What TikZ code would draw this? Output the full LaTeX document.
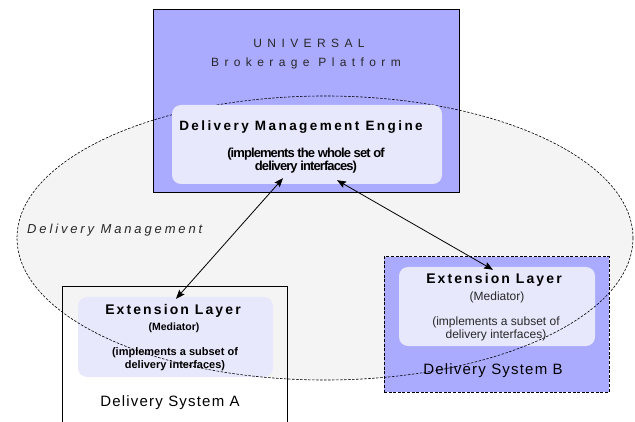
\documentclass[tikz,border=0pt]{standalone}
\usepackage{fontspec}
\setmainfont{Liberation Sans}
\newfontfamily\widefont[LetterSpace=45]{Liberation Sans}
\newfontfamily\trackfont[LetterSpace=15]{Liberation Sans}
\newfontfamily\enginefont[LetterSpace=18]{Liberation Sans}
\newfontfamily\zonefont[LetterSpace=22]{Liberation Sans}
\newfontfamily\lightfont[LetterSpace=8]{Liberation Sans}
\newfontfamily\tightfont[LetterSpace=-7]{Liberation Sans}
\usetikzlibrary{arrows.meta,calc}

\definecolor{platformblue}{RGB}{170,170,255}
\definecolor{paleblue}{RGB}{232,232,252}
\definecolor{zonegray}{RGB}{244,244,244}
\definecolor{softblack}{RGB}{40,40,40}

\begin{document}
\begin{tikzpicture}[x=1pt,y=-1pt,
  outerbox/.style={draw=black, line width=0.9pt, fill=platformblue, inner sep=0pt},
  innerbox/.style={fill=paleblue, rounded corners=9pt, inner sep=0pt},
  frame/.style={inner sep=0pt},
  dashbox/.style={draw=black, line width=1pt, dash pattern=on 3pt off 1.6pt, fill=platformblue, inner sep=0pt},
  zoneline/.style={draw=black, line width=0.6pt, dash pattern=on 2.5pt off 1.5pt},
  title/.style={inner sep=0pt, text=softblack},
  link/.style={line width=0.8pt, {Stealth[length=9pt,width=7pt,inset=1.5pt]}-{Stealth[length=9pt,width=7pt,inset=1.5pt]}}
]
\useasboundingbox (0,0) rectangle (635,422);

% delivery management zone (fill only; outline drawn later)
\fill[zonegray] (325,238) ellipse [x radius=308, y radius=142];

% universal brokerage platform
\node[outerbox, minimum width=306pt, minimum height=183pt] (platform) at (306,100.5) {};

% delivery system A: open box running off the bottom
\node[frame, minimum width=224pt, minimum height=150pt] (sysA) at (175,362) {};
\draw[line width=0.9pt] (sysA.south west) -- (sysA.north west) -- (sysA.north east) -- (sysA.south east);
\node[innerbox, minimum width=195pt, minimum height=80pt] (extA) at (175.5,337) {};

% delivery system B
\node[dashbox, minimum width=225pt, minimum height=135pt] (sysB) at (496.5,324.5) {};
\node[innerbox, minimum width=196pt, minimum height=79pt] (extB) at (497,306.5) {};

% zone outline
\draw[zoneline] (325,238) ellipse [x radius=308, y radius=142];

% engine panel sits above the zone outline
\node[innerbox, minimum width=270pt, minimum height=79pt] (engine) at (307,144.5) {};

% platform texts
\node[title, font=\fontsize{12}{14}\selectfont\widefont] (universal) at (309,43) {UNIVERSAL};
\node[title, font=\fontsize{12}{14}\selectfont\widefont] (brokerage) at (306,63) {Brokerage Platform};
\node[title, text=black, font=\fontsize{13.5}{16}\selectfont\enginefont\bfseries] (dme) at (301,127) {Delivery Management Engine};
\node[title, text=black, align=center, font=\fontsize{13}{12}\selectfont\tightfont\bfseries] (dmenote) at (306,161) {(implements the whole set of\\ delivery interfaces)};

% zone label
\node[title, anchor=west, font=\fontsize{13}{15}\selectfont\zonefont\itshape] (zonelabel) at (27,230) {Delivery Management};

% system A texts
\node[title, text=black, font=\fontsize{14}{16}\selectfont\trackfont\bfseries] (extAtitle) at (173,311) {Extension Layer};
\node[title, text=black, font=\fontsize{10.5}{12}\selectfont\bfseries] (extArole) at (174,328) {(Mediator)};
\node[title, text=black, align=center, font=\fontsize{11}{13}\selectfont\bfseries] (extAnote) at (175,359.5) {(implements a subset of\\ delivery interfaces)};
\node[title, text=black, font=\fontsize{15}{17}\selectfont\lightfont] (sysAname) at (170,403) {Delivery System A};

% system B texts
\node[title, text=black, font=\fontsize{14}{16}\selectfont\trackfont\bfseries] (extBtitle) at (494,280) {Extension Layer};
\node[title, font=\fontsize{12}{14}\selectfont] (extBrole) at (497,297) {(Mediator)};
\node[title, align=center, font=\fontsize{12}{13}\selectfont] (extBnote) at (496,328.5) {(implements a subset of\\ delivery interfaces)};
\node[title, text=black, font=\fontsize{15}{17}\selectfont\lightfont] (sysBname) at (493,371) {Delivery System B};

% engine <-> mediators
\draw[link] ([xshift=-24pt,yshift=6pt]engine.south) -- ([xshift=0.5pt,yshift=-2pt]extA.north);
\draw[link] ([xshift=30pt,yshift=4pt]engine.south) -- ([xshift=-4pt,yshift=-3pt]extB.north);
\end{tikzpicture}
\end{document}
